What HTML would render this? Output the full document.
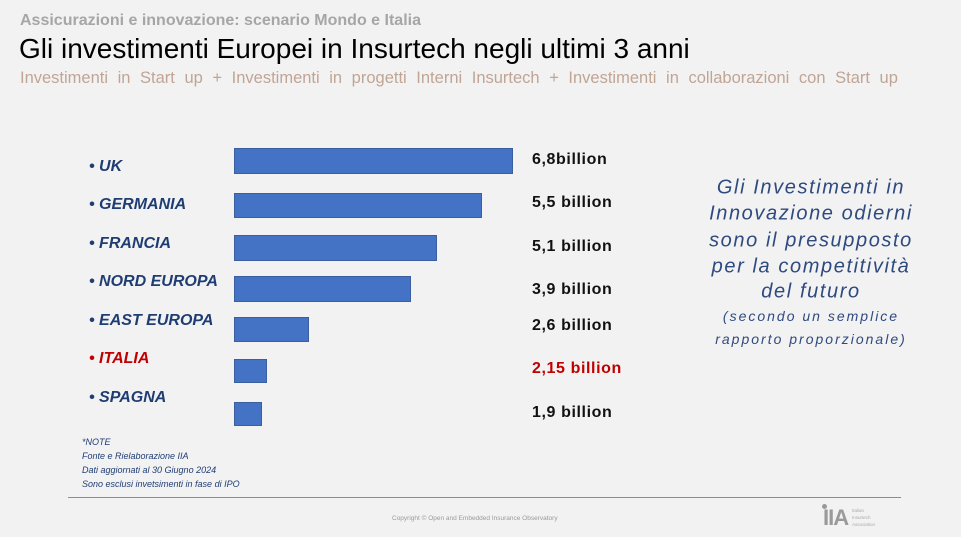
<!DOCTYPE html>
<html><head><meta charset="utf-8"><style>
body{margin:0;width:961px;height:537px;background:#f2f2f2;position:relative;overflow:hidden;font-family:"Liberation Sans",sans-serif}
.a{position:absolute;white-space:nowrap}
.bar{position:absolute;left:234px;background:#4472c4;border:1px solid #3a5f9f;box-sizing:border-box}
.lab{position:absolute;left:89px;font-weight:bold;font-style:italic;font-size:16px;color:#1f3d73;transform:translateY(-50%)}
.val{position:absolute;left:532px;font-weight:bold;font-size:16px;letter-spacing:0.6px;color:#111;transform:translateY(-50%)}
.r{position:absolute;left:680px;width:262px;text-align:center;font-style:italic;color:#2f4a7f;transform:translateY(-50%)}
.n{position:absolute;left:82px;font-style:italic;font-size:9px;color:#1f3d73}
</style></head><body>
<div class="a" style="left:20px;top:12px;font-size:16px;font-weight:bold;color:#a6a6a6">Assicurazioni e innovazione: scenario Mondo e Italia</div>
<div class="a" style="left:19px;top:33px;font-size:28px;color:#000">Gli investimenti Europei in Insurtech negli ultimi 3 anni</div>
<div class="a" style="left:20px;top:69px;font-size:16.5px;color:#c0a595;word-spacing:5px">Investimenti in Start up + Investimenti in progetti Interni Insurtech + Investimenti in collaborazioni con Start up</div>

<div class="bar" style="top:148px;width:279px;height:26px"></div>
<div class="bar" style="top:193px;width:248px;height:25px"></div>
<div class="bar" style="top:235px;width:203px;height:26px"></div>
<div class="bar" style="top:276px;width:177px;height:26px"></div>
<div class="bar" style="top:317px;width:75px;height:25px"></div>
<div class="bar" style="top:359px;width:33px;height:24px"></div>
<div class="bar" style="top:402px;width:28px;height:24px"></div>

<div class="lab" style="top:167px">• UK</div>
<div class="lab" style="top:205px">• GERMANIA</div>
<div class="lab" style="top:244px">• FRANCIA</div>
<div class="lab" style="top:282px">• NORD EUROPA</div>
<div class="lab" style="top:321px">• EAST EUROPA</div>
<div class="lab" style="top:359px;color:#c00000">• ITALIA</div>
<div class="lab" style="top:398px">• SPAGNA</div>

<div class="val" style="top:160px">6,8billion</div>
<div class="val" style="top:203px">5,5 billion</div>
<div class="val" style="top:247px">5,1 billion</div>
<div class="val" style="top:290px">3,9 billion</div>
<div class="val" style="top:326px">2,6 billion</div>
<div class="val" style="top:369px;color:#c00000">2,15 billion</div>
<div class="val" style="top:413px">1,9 billion</div>

<div class="r" style="top:188px;font-size:20px;letter-spacing:1.6px">Gli Investimenti in</div>
<div class="r" style="top:214px;font-size:20px;letter-spacing:1.6px">Innovazione odierni</div>
<div class="r" style="top:241px;font-size:20px;letter-spacing:1.6px">sono il presupposto</div>
<div class="r" style="top:267px;font-size:20px;letter-spacing:1.6px">per la competitività</div>
<div class="r" style="top:292px;font-size:20px;letter-spacing:1.6px">del futuro</div>
<div class="r" style="top:316px;font-size:14px;letter-spacing:2px">(secondo un semplice</div>
<div class="r" style="top:339px;font-size:14px;letter-spacing:2px">rapporto proporzionale)</div>

<div class="n" style="top:437px">*NOTE</div>
<div class="n" style="top:451px">Fonte e Rielaborazione IIA</div>
<div class="n" style="top:465px">Dati aggiornati al 30 Giugno 2024</div>
<div class="n" style="top:479px">Sono esclusi invetsimenti in fase di IPO</div>

<div class="a" style="left:68px;top:497px;width:833px;height:1px;background:#8c8c96"></div>
<div class="a" style="left:392px;top:515px;font-size:6.5px;color:#9a9a9a">Copyright © Open and Embedded Insurance Observatory</div>
<div class="a" style="left:823px;top:505px;font-size:22px;font-weight:bold;color:#9a9a9a;letter-spacing:-1px">IIA</div>
<div class="a" style="left:822px;top:504px;width:5px;height:5px;border-radius:50%;background:#9a9a9a"></div>
<div class="a" style="left:852px;top:507px;font-size:4.5px;line-height:7px;color:#aaa">Italian<br>Insurtech<br>Association</div>
</body></html>
